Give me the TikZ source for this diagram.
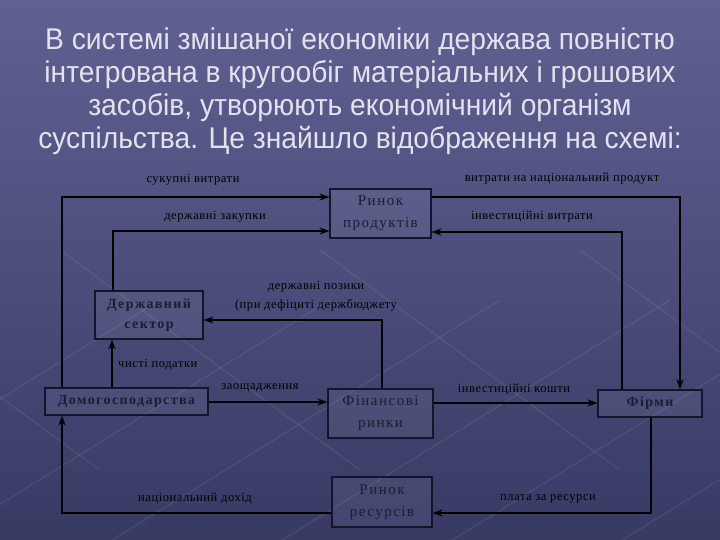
\documentclass[tikz,border=0pt]{standalone}
\usepackage{fontspec}
\setmainfont{Liberation Serif}
\newfontfamily\titlefont{Liberation Sans}
\newfontfamily\boxfont[LetterSpace=10]{Liberation Serif}
\newfontfamily\labelfont[LetterSpace=4.5]{Liberation Serif}
\usetikzlibrary{arrows.meta}
\definecolor{slidetop}{RGB}{96,97,146}
\definecolor{slidebot}{RGB}{56,58,100}
\definecolor{titletext}{RGB}{226,226,238}
\definecolor{boxline}{RGB}{20,20,45}
\definecolor{boxtext}{RGB}{28,28,50}
\tikzset{
    flow/.style={line width=2.4pt, draw=black, -{Stealth[length=10pt,width=7pt]}},
    streak/.style={white, opacity=0.07, line width=1.5pt},
    market/.style={draw=boxline, line width=1.1pt, fill=white, fill opacity=0.06, text opacity=1, text=boxtext, align=center, inner sep=0pt, font=\boxfont\fontsize{15}{22}\selectfont},
    sector/.style={market, font=\boxfont\bfseries\fontsize{14}{20}\selectfont},
    flowlabel/.style={text=black, font=\labelfont\fontsize{12.5}{19}\selectfont, align=center, inner sep=0pt}
}

\begin{document}
\begin{tikzpicture}[x=1pt,y=-1pt]
\useasboundingbox (0,0) rectangle (720,540);
\shade[top color=slidetop, bottom color=slidebot] (0,0) rectangle (720,540);
% background streaks
\foreach \s in {-260,-90,80,250,420,590,760}{
\draw[streak] (\s,560) -- (\s+420,300);
}
\foreach \s in {-200,60,320,580}{
\draw[streak] (\s,250) -- (\s+300,470);
}
\node[text=titletext, align=center, xscale=0.94, font=\titlefont\fontsize{30}{33}\selectfont] (title) at (360,91)
  {В системі змішаної економіки держава повністю\\
   інтегрована в кругообіг матеріальних і грошових\\
   засобів, утворюють економічний організм\\
   суспільства. Це знайшло відображення на схемі:};
% boxes
\foreach \x/\y/\w/\h/\p/\s/\t in {380.5/213.5/101/49/prod/market/{Ринок\\продуктів}, 149/315/108/48/gov/sector/{Державний\\сектор}, 126.5/401.5/163/27/hh/sector/{Домогосподарства}, 380.5/413.5/105/49/fin/market/{Фінансові\\ринки}, 650/403.5/104/27/firm/sector/{Фірми}, 382/502/100/50/res/market/{Ринок\\ресурсів}}{
\node[\s, minimum width=\w pt, minimum height=\h pt] (\p) at (\x,\y) {\t};
}
% bends
\coordinate (totalexp) at (62,197);
\coordinate (govbuy) at (113,231);
\coordinate (natexp) at (680,197);
\coordinate (invexp) at (622,232);
\coordinate (govloan) at (382,320);
\coordinate (nettax) at (112,365);
\coordinate (savings) at (260,402);
\coordinate (invfunds) at (514,403);
\coordinate (respay) at (651,513);
\coordinate (natinc) at (62,513);
\draw[flow] (hh.north -| totalexp) -- (totalexp) -- (totalexp -| prod.west);
\draw[flow] (gov.north -| govbuy) -- (govbuy) -- (govbuy -| prod.west);
\draw[flow] (natexp -| prod.east) -- (natexp) -- (firm.north -| natexp);
\draw[flow] (firm.north -| invexp) -- (invexp) -- (invexp -| prod.east);
\draw[flow] (fin.north -| govloan) -- (govloan) -- (govloan -| gov.east);
\draw[flow] (hh.north -| nettax) -- (gov.south -| nettax);
\draw[flow] (hh.east |- savings) -- (fin.west |- savings);
\draw[flow] (fin.east |- invfunds) -- (firm.west |- invfunds);
\draw[flow] (firm.south -| respay) -- (respay) -- (respay -| res.east);
\draw[flow] (res.west |- natinc) -- (natinc) -- (hh.south -| natinc);
% labels
\foreach \x/\y/\p/\t in {193/180/ltotal/{сукупні витрати}, 215/217/lgovbuy/{державні закупки}, 562/179/lnatexp/{витрати на національний продукт}, 532/217/linvexp/{інвестиційні витрати}, 316/296.5/lgovloan/{державні позики\\(при дефіциті держбюджету}, 260/388/lsave/{заощадження}, 514/389/linvf/{інвестиційні кошти}, 195/498/lnatinc/{національний дохід}, 548/499/lrespay/{плата за ресурси}}{
\node[flowlabel] (\p) at (\x,\y) {\t};
}
\node[flowlabel, anchor=west] (lnettax) at (118,365) {чисті податки};
\end{tikzpicture}
\end{document}
